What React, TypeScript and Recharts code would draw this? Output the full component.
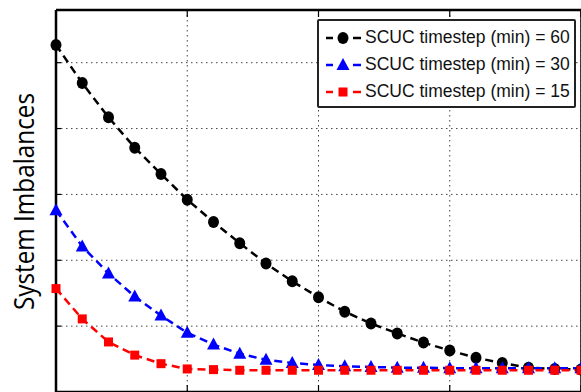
import { LineChart, Line, XAxis, YAxis, CartesianGrid, Legend } from 'recharts'

// 21 SCUC steps (grid unit = 1)
const steps = [0, 1, 2, 3, 4, 5, 6, 7, 8, 9, 10, 11, 12, 13, 14, 15, 16, 17, 18, 19, 20]
const imbalance60 = [5.27, 4.69, 4.17, 3.71, 3.31, 2.92, 2.58, 2.26, 1.95, 1.68, 1.44, 1.22, 1.04, 0.89, 0.75, 0.63, 0.52, 0.44, 0.37, 0.35, 0.34]
const imbalance30 = [2.76, 2.21, 1.8, 1.45, 1.16, 0.9, 0.72, 0.58, 0.49, 0.44, 0.41, 0.39, 0.38, 0.37, 0.37, 0.36, 0.36, 0.36, 0.36, 0.36, 0.36]
const imbalance15 = [1.57, 1.11, 0.76, 0.56, 0.43, 0.35, 0.34, 0.33, 0.33, 0.33, 0.33, 0.33, 0.33, 0.33, 0.33, 0.33, 0.33, 0.33, 0.33, 0.33, 0.33]

const xTicks = [0, 5, 10, 15, 20]
const yTicks = [0, 1, 2, 3, 4, 5]

const data = steps.map((s, i) => ({
  step: s,
  t60: imbalance60[i],
  t30: imbalance30[i],
  t15: imbalance15[i],
}))

const series = [
  { key: 't60', name: 'SCUC timestep (min) = 60', color: '#000000', shape: 'circle' },
  { key: 't30', name: 'SCUC timestep (min) = 30', color: '#0000ff', shape: 'triangle' },
  { key: 't15', name: 'SCUC timestep (min) = 15', color: '#ff0000', shape: 'square' },
]

function Marker({ shape, cx, cy, color }: { shape: string; cx: number; cy: number; color: string }) {
  if (shape === 'circle') return <ellipse cx={cx} cy={cy} rx={5.5} ry={6} fill={color} />
  if (shape === 'triangle')
    return <path d={`M${cx},${cy - 7}L${cx + 6.5},${cy + 5}L${cx - 6.5},${cy + 5}Z`} fill={color} />
  return <rect x={cx - 4.5} y={cy - 4.5} width={9} height={9} fill={color} />
}

const makeDot = (shape: string, color: string) => (props: any) => {
  const { cx, cy, index } = props
  if (cx == null || cy == null) return <g key={index} />
  return (
    <g key={`${shape}-${index}`}>
      <Marker shape={shape} cx={cx} cy={cy} color={color} />
    </g>
  )
}

// no tick labels, but keep the tick marks (and grid)
const noLabel = () => <g />

function LegendBox() {
  return (
    <div
      style={{
        boxSizing: 'border-box',
        width: 259,
        height: 89,
        border: '2px solid #222',
        borderRadius: 2,
        background: '#fff',
        paddingTop: 3,
        paddingLeft: 6,
        fontFamily: '"Liberation Sans", Arial, sans-serif',
        fontSize: 17.5,
        color: '#111',
      }}
    >
      {series.map((s) => (
        <div key={s.key} style={{ display: 'flex', alignItems: 'center', height: 27 }}>
          <svg width={40} height={20} style={{ flex: 'none' }}>
            <line x1={1} y1={10} x2={8} y2={10} stroke={s.color} strokeWidth={2.5} />
            <line x1={28} y1={10} x2={36} y2={10} stroke={s.color} strokeWidth={2.5} />
            <Marker shape={s.shape} cx={18} cy={10} color={s.color} />
          </svg>
          <span style={{ whiteSpace: 'nowrap' }}>{s.name}</span>
        </div>
      ))}
    </div>
  )
}

const frame = { stroke: '#000', strokeWidth: 2.5 }
const tickMark = { stroke: '#000', strokeWidth: 1.2 }

export default function App() {
  return (
    <div style={{ position: 'absolute', left: 0, top: 0, background: '#fff' }}>
      <LineChart width={581} height={392} data={data} margin={{ top: 10, right: 0, bottom: 0, left: 56 }}>
        <CartesianGrid stroke="#444" strokeDasharray="1.5 3.5" />
        <XAxis
          dataKey="step"
          type="number"
          domain={[0, 20]}
          ticks={xTicks}
          height={1}
          mirror
          tick={noLabel}
          tickSize={7}
          axisLine={frame}
          tickLine={tickMark}
        />
        <XAxis
          xAxisId="top"
          orientation="top"
          type="number"
          domain={[0, 20]}
          ticks={xTicks}
          height={1}
          mirror
          tick={noLabel}
          tickSize={7}
          axisLine={frame}
          tickLine={tickMark}
        />
        <YAxis
          type="number"
          domain={[0, 5.8]}
          ticks={yTicks}
          width={1}
          mirror
          tick={noLabel}
          tickSize={5}
          axisLine={frame}
          tickLine={tickMark}
          label={{
            content: () => (
              <text
                transform="translate(34,201.5) rotate(-90)"
                textAnchor="middle"
                fontFamily='"Open Sans", sans-serif'
                fontSize={28}
                textLength={217}
                lengthAdjust="spacingAndGlyphs"
                fill="#000"
              >
                System Imbalances
              </text>
            ),
          }}
        />
        <YAxis
          yAxisId="right"
          orientation="right"
          type="number"
          domain={[0, 5.8]}
          ticks={yTicks}
          width={1}
          mirror
          tick={noLabel}
          tickSize={5}
          axisLine={{ stroke: '#000', strokeWidth: 1.5 }}
          tickLine={tickMark}
        />
        {series.map((s) => (
          <Line
            key={s.key}
            dataKey={s.key}
            name={s.name}
            stroke={s.color}
            strokeWidth={2.5}
            strokeDasharray="8 5"
            dot={makeDot(s.shape, s.color)}
            activeDot={false}
            isAnimationActive={false}
          />
        ))}
        <Legend
          layout="vertical"
          align="center"
          verticalAlign="middle"
          content={() => <LegendBox />}
          wrapperStyle={{ top: 19, left: 317, width: 259, height: 89 }}
        />
      </LineChart>
    </div>
  )
}
